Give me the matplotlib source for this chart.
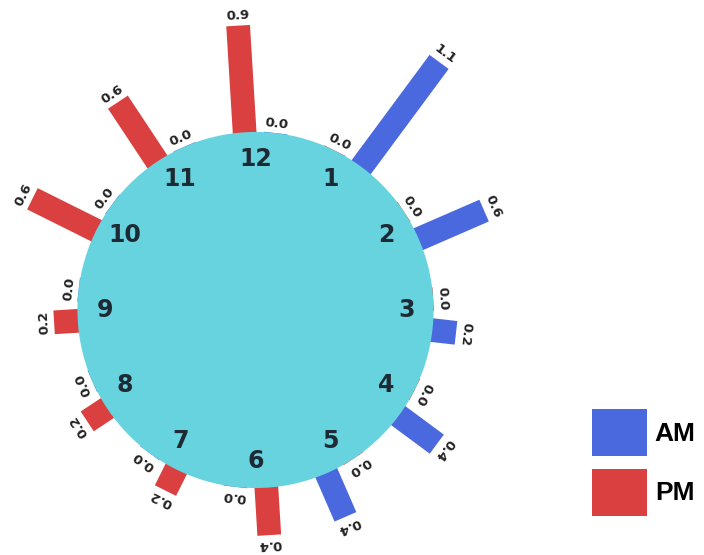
import matplotlib.pyplot as plt
from matplotlib.patches import Circle, Rectangle, Patch
from matplotlib.transforms import Affine2D
import numpy as np

# Hours around the clock face
HOURS = [1, 2, 3, 4, 5, 6, 7, 8, 9, 10, 11, 12]

# Values per hour
AM_VALUES = [1.1, 0.6, 0.2, 0.4, 0.4, 0.0, 0.0, 0.0, 0.0, 0.0, 0.0, 0.0]
PM_VALUES = [0.0, 0.0, 0.0, 0.0, 0.0, 0.4, 0.2, 0.2, 0.2, 0.6, 0.6, 0.9]

# Colors
FACE_COLOR = '#66D3DF'
AM_COLOR = '#4A69DE'
PM_COLOR = '#DA4040'
TEXT_COLOR = '#1E2A33'

# Geometry (data units: bar length 1 == value 1)
RADIUS = 1.5
BAR_WIDTH = 0.2
AM_OFFSET = 6.5    # degrees clockwise from the hour
PM_OFFSET = -3.5
LABEL_PAD = 0.08
NUMBER_RADIUS = 1.27

FONT = ['DejaVu Sans']


def polar_xy(r, angle_deg):
    a = np.radians(angle_deg)
    return r * np.sin(a), r * np.cos(a)


def draw_bar(ax, angle_deg, value, color):
    # bar pointing up, then rotated clockwise to its slot
    rect = Rectangle((-BAR_WIDTH / 2, RADIUS - 0.05), BAR_WIDTH, value + 0.05,
                     facecolor=color, edgecolor='none', zorder=2)
    rect.set_transform(Affine2D().rotate_deg(-angle_deg) + ax.transData)
    ax.add_patch(rect)

    x, y = polar_xy(RADIUS + value + LABEL_PAD, angle_deg)
    ax.text(x, y, f'{value:.1f}', rotation=-angle_deg, rotation_mode='anchor',
            ha='center', va='center', fontsize=9.5, fontweight='bold',
            color='#222222', family=FONT, zorder=4)


fig = plt.figure(figsize=(7.04, 5.55), dpi=100)
ax = fig.add_axes([0, 0, 1, 1])

# pixel scale of the layout: 118.7 px per unit, circle centre at (255.5, 310)
scale = 118.7
ax.set_xlim(-255.5 / scale, (704 - 255.5) / scale)
ax.set_ylim(-(555 - 310) / scale, 310 / scale)
ax.axis('off')

for hour, am, pm in zip(HOURS, AM_VALUES, PM_VALUES):
    base = hour * 30
    draw_bar(ax, base + AM_OFFSET, am, AM_COLOR)
    draw_bar(ax, base + PM_OFFSET, pm, PM_COLOR)

    x, y = polar_xy(NUMBER_RADIUS, base)
    ax.text(x, y, str(hour), ha='center', va='center', fontsize=17,
            fontweight='bold', color=TEXT_COLOR, family=FONT, zorder=4)

ax.add_patch(Circle((0, 0), RADIUS, facecolor=FACE_COLOR, edgecolor='none', zorder=3))

handles = [Patch(facecolor=AM_COLOR, label='AM'), Patch(facecolor=PM_COLOR, label='PM')]
fig.legend(handles=handles, loc='upper left', bbox_to_anchor=(592 / 704, 1 - 409 / 555),
           frameon=False, borderpad=0, borderaxespad=0, handlelength=2.08,
           handleheight=2.36, labelspacing=0.49, handletextpad=0.3,
           prop={'family': ['Liberation Sans', 'DejaVu Sans'], 'weight': 'bold', 'size': 19})

fig.savefig('out.png', dpi=100)
